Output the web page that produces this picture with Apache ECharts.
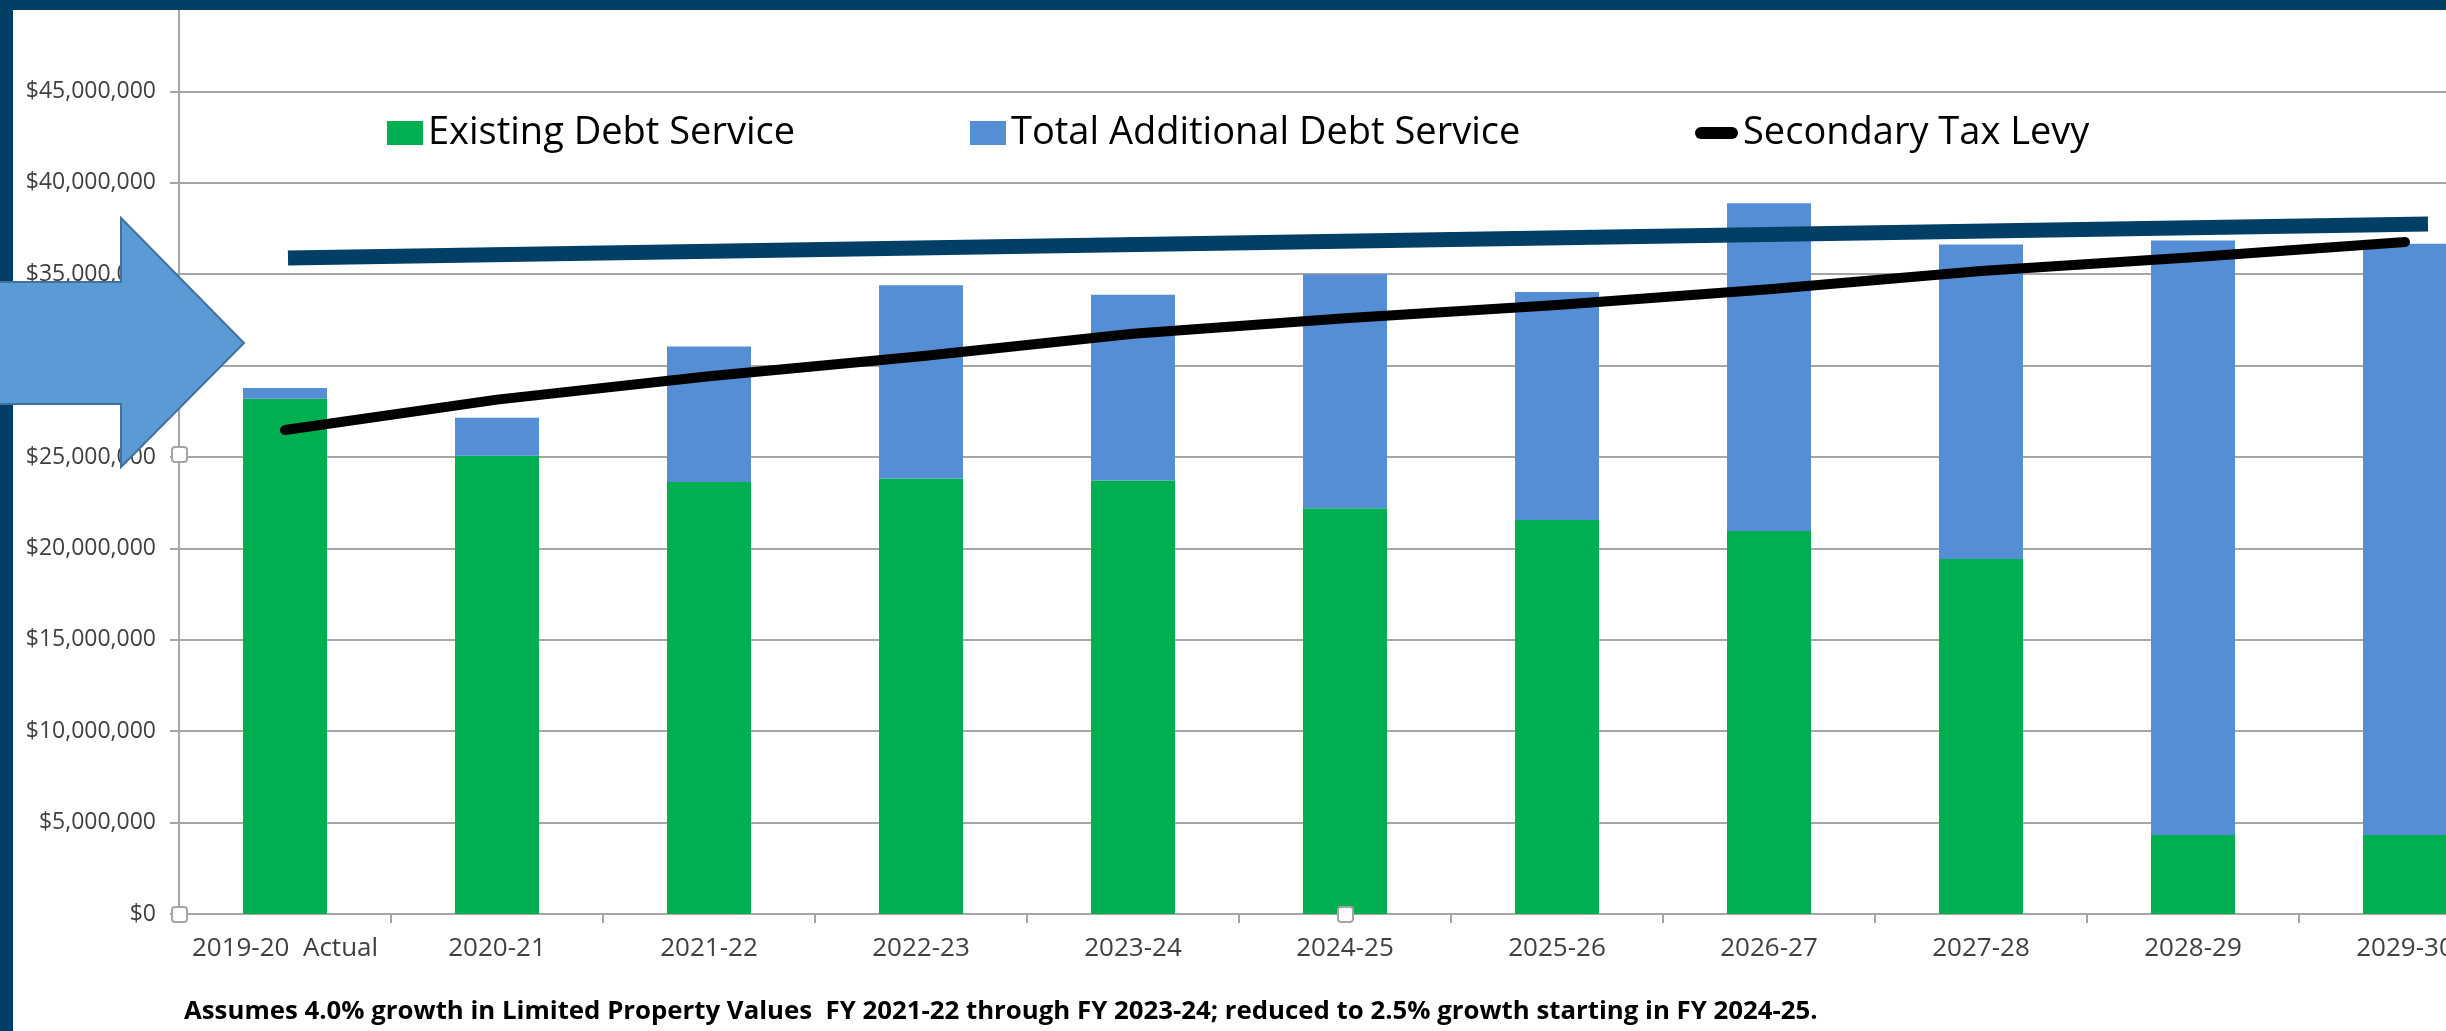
<!DOCTYPE html>
<html><head><meta charset="utf-8">
<script src="https://cdn.jsdelivr.net/npm/echarts@6/dist/echarts.min.js"></script>
<style>
html,body{margin:0;padding:0;overflow:hidden;background:#fff;width:2446px;height:1031px}
#c{position:absolute;left:0;top:0;width:2600px;height:1031px}
</style></head>
<body><div id="c"></div>
<script>
// ---- data (values in dollars) ----
const categories = ['2019-20  Actual','2020-21','2021-22','2022-23','2023-24','2024-25','2025-26','2026-27','2027-28','2028-29','2029-30'];
const existingDebtService = [28180000, 25070000, 23630000, 23830000, 23710000, 22200000, 21560000, 20950000, 19420000, 4320000, 4320000];
const additionalDebtService = [600000, 2080000, 7420000, 10560000, 10170000, 12800000, 12460000, 17930000, 17210000, 32530000, 32350000];
const secondaryTaxLevy = [26480000, 28140000, 29420000, 30510000, 31740000, 32590000, 33310000, 34180000, 35180000, 35930000, 36760000];
const seriesNames = ['Existing Debt Service','Total Additional Debt Service','Secondary Tax Levy'];
const yMin = 0, yMax = 50000000, yInterval = 5000000;
const footnote = 'Assumes 4.0% growth in Limited Property Values  FY 2021-22 through FY 2023-24; reduced to 2.5% growth starting in FY 2024-25.';

const FONT = 'Open Sans';
const NAVY = '#023f66';
const GRID = '#a6a6a6';

function fmt(v){ return '$' + Math.round(v).toString().replace(/\B(?=(\d{3})+(?!\d))/g, ','); }

const chart = echarts.init(document.getElementById('c'), null, {renderer:'canvas'});
const legendText = {fontFamily:FONT, fontSize:38, lineHeight:38, color:'#000'};
chart.setOption({
  backgroundColor:'#fff',
  animation:false,
  grid:{left:179, top:-5, right:89, bottom:117, containLabel:false},
  legend:[
    {left:387, top:114, padding:0, itemGap:0, itemWidth:36, itemHeight:24, icon:'rect', data:[seriesNames[0]], textStyle:legendText, selectedMode:false},
    {left:970, top:114, padding:0, itemGap:0, itemWidth:36, itemHeight:24, icon:'rect', data:[seriesNames[1]], textStyle:legendText, selectedMode:false},
    {left:1695, top:114, padding:0, itemGap:0, itemWidth:43, itemHeight:12,
      data:[{name:seriesNames[2], icon:'path://M6,0 L37,0 A6,6 0 0 1 37,12 L6,12 A6,6 0 0 1 6,0 Z'}], textStyle:legendText, selectedMode:false}
  ],
  xAxis:{
    type:'category', data:categories,
    axisLine:{show:true, lineStyle:{color:GRID, width:2}},
    axisTick:{show:true, length:9, lineStyle:{color:GRID, width:2}},
    axisLabel:{fontFamily:FONT, fontSize:26, color:'#404040', margin:22, interval:0}
  },
  yAxis:{
    type:'value', min:yMin, max:yMax, interval:yInterval,
    axisLine:{show:true, lineStyle:{color:GRID, width:2}},
    axisTick:{show:true, length:9, lineStyle:{color:GRID, width:2}},
    splitLine:{show:true, lineStyle:{color:GRID, width:2}},
    axisLabel:{fontFamily:FONT, fontSize:23, color:'#404040', margin:23, showMaxLabel:false, formatter:fmt}
  },
  series:[
    {name:seriesNames[0], type:'bar', stack:'debt', barWidth:84, data:existingDebtService, itemStyle:{color:'#00b050'}},
    {name:seriesNames[1], type:'bar', stack:'debt', barWidth:84, data:additionalDebtService, itemStyle:{color:'#558ed5'}},
    {name:seriesNames[2], type:'line', data:secondaryTaxLevy, symbol:'none', showSymbol:false, z:5,
      itemStyle:{color:'#000'}, lineStyle:{color:'#000', width:10, cap:'round', join:'round'}}
  ],
  graphic:[
    // slide frame
    {type:'rect', z:90, shape:{x:0,y:0,width:2446,height:10}, style:{fill:NAVY}},
    {type:'rect', z:90, shape:{x:0,y:0,width:13,height:1031}, style:{fill:NAVY}},
    // annotation line
    {type:'line', z:95, shape:{x1:288,y1:258,x2:2428,y2:224}, style:{stroke:NAVY, lineWidth:15}},
    // block arrow
    {type:'polygon', z:100, shape:{points:[[-10,282],[121,282],[121,218],[244,343],[121,467],[121,404],[-10,404]]},
      style:{fill:'#5b9bd5', stroke:'#41719c', lineWidth:2}},
    // selection handles
    {type:'rect', z:96, shape:{x:172,y:447,width:15,height:15,r:3}, style:{fill:'#fff', stroke:'#a6a6a6', lineWidth:2}},
    {type:'rect', z:96, shape:{x:172,y:907,width:15,height:15,r:3}, style:{fill:'#fff', stroke:'#a6a6a6', lineWidth:2}},
    {type:'rect', z:96, shape:{x:1338,y:907,width:15,height:15,r:3}, style:{fill:'#fff', stroke:'#a6a6a6', lineWidth:2}},
    // footnote
    {type:'text', z:96, x:184, y:1012, style:{text:footnote, fill:'#000', font:'bold 25.8px "Open Sans"', textVerticalAlign:'middle', verticalAlign:'middle'}}
  ]
});
</script>
</body></html>
